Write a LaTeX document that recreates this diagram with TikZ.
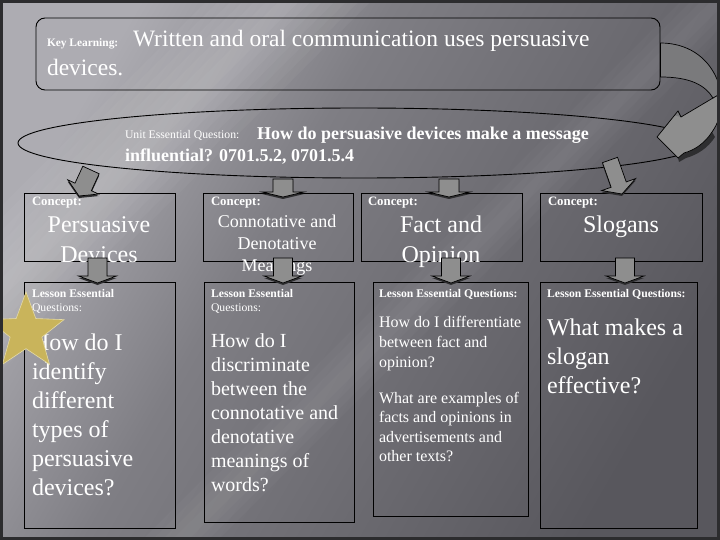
\documentclass[tikz,border=0pt]{standalone}
\usepackage{fontspec}
\setmainfont{Liberation Serif}
\usetikzlibrary{shapes.geometric,calc}
\definecolor{bgL}{HTML}{ADACB2}
\definecolor{bgM}{HTML}{7F7E84}
\definecolor{bgD}{HTML}{58575D}
\definecolor{arrowgray}{HTML}{8E8E8E}
\definecolor{arrowback}{HTML}{7A7A7C}
\definecolor{shadowc}{HTML}{2E2E30}
\definecolor{stargold}{HTML}{C9B45B}
\definecolor{staredge}{HTML}{E4DAA6}
\definecolor{framec}{HTML}{2C2C2E}
\pgfdeclarehorizontalshading{bgsh}{100bp}{color(0bp)=(bgL); color(25bp)=(bgL); color(42bp)=(bgM); color(75bp)=(bgD); color(100bp)=(bgD)}
\newcommand\blockarr[5]{%
  \path ($(#2)!#5!(#1)$) coordinate (tmpH);
  \begin{scope}[transform canvas={yshift=-2pt}]
  \fill[shadowc] ($(#1)!#3!-90:(#2)$) -- ($(tmpH)!#3!90:(#1)$) -- ($(tmpH)!#4!90:(#1)$) -- (#2) -- ($(tmpH)!#4!-90:(#1)$) -- ($(tmpH)!#3!-90:(#1)$) -- ($(#1)!#3!90:(#2)$) -- cycle;
  \end{scope}
  \draw[barrow] ($(#1)!#3!-90:(#2)$) -- ($(tmpH)!#3!90:(#1)$) -- ($(tmpH)!#4!90:(#1)$) -- (#2) -- ($(tmpH)!#4!-90:(#1)$) -- ($(tmpH)!#3!-90:(#1)$) -- ($(#1)!#3!90:(#2)$) -- cycle;}
\begin{document}
\begin{tikzpicture}[x=1pt,y=-1pt,
  txt/.style={text=white, inner sep=0pt, outer sep=0pt},
  boxst/.style={draw=black, line width=0.9pt, rectangle, inner sep=0pt},
  barrow/.style={fill=arrowgray, draw=black, line width=0.7pt, line join=miter},
  fa/.style={txt, anchor=base west, font=\fontsize{24}{28}\selectfont},
  fb/.style={txt, anchor=base west, font=\fontsize{20}{24}\selectfont},
  fc/.style={txt, anchor=base west, font=\fontsize{16}{19}\selectfont},
  small/.style={txt, anchor=base west, font=\fontsize{11.7}{13}\selectfont},
  smallb/.style={txt, anchor=base west, font=\fontsize{11.7}{13}\selectfont\bfseries},
  conc/.style={txt, anchor=base west, font=\fontsize{12.8}{14}\selectfont\bfseries},
  ctitle/.style={txt, anchor=base, font=\fontsize{24}{28}\selectfont},
]
\useasboundingbox (0,0) rectangle (720,540);
% background
\shade[shading=bgsh, shading angle=-30] (0,0) rectangle (720,540);
\begin{scope}
  \clip (0,0) rectangle (720,540);
  \foreach \w in {10,22,34,46,58,70,82}
    \fill[white, fill opacity=0.035] ({290-\w+700},-700) -- ({290+\w+700},-700) -- ({290+\w-1300},1300) -- ({290-\w-1300},1300) -- cycle;
  \foreach \w in {8,18,28,38}
    \fill[white, fill opacity=0.025] ({720-\w+700},-700) -- ({720+\w+700},-700) -- ({720+\w-1300},1300) -- ({720-\w-1300},1300) -- cycle;
\end{scope}

% key learning
\node[draw=black, line width=0.9pt, rounded corners=9pt, minimum width=624pt, minimum height=72pt, inner sep=0pt] (kl) at (348,54) {};
\node[txt, anchor=base west, font=\fontsize{11.4}{13}\selectfont\bfseries] (klab) at (47,47) {Key Learning:};
\node[txt, anchor=base west, font=\fontsize{23.5}{28}\selectfont] (kl1) at (133,47) {Written and oral communication uses persuasive};
\node[txt, anchor=base west, font=\fontsize{23.5}{28}\selectfont] (kl2) at (47,76) {devices.};

% unit essential question
\node[ellipse, draw=black, line width=0.9pt, minimum width=682pt, minimum height=70pt, inner sep=0pt] (ueq) at (359,143) {};
\node[small] (ueqlab) at (125,139) {Unit Essential Question:};
\node[txt, anchor=base west, font=\fontsize{18}{22}\selectfont\bfseries] (ueq1) at (257,140) {How do persuasive devices make a message};
\node[txt, anchor=base west, font=\fontsize{18}{22}\selectfont\bfseries] (ueq2) at (125,162) {influential? 0701.5.2, 0701.5.4};

% curved arrow from key learning to unit question
\coordinate (ko) at (kl.east |- 0,43);
\coordinate (ki) at (kl.east |- 0,77);
\fill[shadowc] (678,158) -- (684,153) .. controls (695,150) and (705,143) .. (712,132) -- (715,137) .. controls (708,148) and (697,155) .. (686,158) -- (679,162) -- cycle;
\fill[arrowback] (ko) .. controls (715,43) and (735,100) .. (712,132) .. controls (705,143) and (695,150) .. (684,153) -- (678,158) -- (657,137) -- (678,111) -- (681,117) -- (713,98) .. controls (705,85) and (690,77) .. (ki) -- cycle;
\begin{scope}
  \clip (ko) .. controls (715,43) and (735,100) .. (712,132) .. controls (705,143) and (695,150) .. (684,153) -- (678,158) -- (657,137) -- (678,111) -- (681,117) -- (713,98) .. controls (705,85) and (690,77) .. (ki) -- cycle;
  \fill[arrowgray] (681,117) -- (713,98) -- (730,92) -- (730,170) -- (650,170) -- (650,110) -- cycle;
\end{scope}
\draw[black, line width=0.7pt, line join=miter] (ko) .. controls (715,43) and (735,100) .. (712,132) .. controls (705,143) and (695,150) .. (684,153) -- (678,158) -- (657,137) -- (678,111) -- (681,117) -- (713,98) .. controls (705,85) and (690,77) .. (ki) -- cycle;
\draw[black, line width=0.7pt] (713,98) -- (720,94);

% concept boxes
\node[boxst, minimum width=151pt, minimum height=68pt] (c1) at (99.5,227) {};
\node[boxst, minimum width=150pt, minimum height=68pt] (c2) at (278,227) {};
\node[boxst, minimum width=161pt, minimum height=68pt] (c3) at (441.5,227) {};
\node[boxst, minimum width=162pt, minimum height=68pt] (c4) at (621,227) {};
\node[conc] (c1lab) at (32,206) {Concept:};
\node[conc] (c2lab) at (211,206) {Concept:};
\node[conc] (c3lab) at (368,206) {Concept:};
\node[conc] (c4lab) at (548,206) {Concept:};
\node[ctitle] (c1t1) at (99,233) {Persuasive};
\node[ctitle] (c1t2) at (99,262) {Devices};
\node[txt, anchor=base, font=\fontsize{18}{22}\selectfont] (c2t1) at (277,227) {Connotative and};
\node[txt, anchor=base, font=\fontsize{18}{22}\selectfont] (c2t2) at (277,249) {Denotative};
\node[txt, anchor=base, font=\fontsize{18}{22}\selectfont] (c2t3) at (277,271) {Meanings};
\node[ctitle] (c3t1) at (441,233) {Fact and};
\node[ctitle] (c3t2) at (441,262) {Opinion};
\node[ctitle] (c4t1) at (621,233) {Slogans};

% lesson boxes
\node[boxst, minimum width=151pt, minimum height=246pt] (l1) at (99.5,405) {};
\node[boxst, minimum width=150pt, minimum height=240pt] (l2) at (279,402) {};
\node[boxst, minimum width=155pt, minimum height=234pt] (l3) at (450.5,399) {};
\node[boxst, minimum width=157pt, minimum height=246pt] (l4) at (618.5,405) {};
\node[smallb] (l1h1) at (32,297) {Lesson Essential};
\node[small] (l1h2) at (32,311) {Questions:};
\node[smallb] (l2h1) at (211,297) {Lesson Essential};
\node[small] (l2h2) at (211,311) {Questions:};
\node[smallb] (l3h) at (379,297) {Lesson Essential Questions:};
\node[smallb] (l4h) at (547,297) {Lesson Essential Questions:};
\foreach \t [count=\i from 0] in {How do I, identify, different, types of, persuasive, devices?}
  \node[fa] (l1b\i) at (32,{350+29*\i}) {\t};
\foreach \t [count=\i from 0] in {How do I, discriminate, between the, connotative and, denotative, meanings of, words?}
  \node[fb] (l2b\i) at (211,{347+24*\i}) {\t};
\foreach \t [count=\i from 0] in {How do I differentiate, between fact and, opinion?}
  \node[fc] (l3a\i) at (379,{327+20*\i}) {\t};
\foreach \t [count=\i from 0] in {What are examples of, facts and opinions in, advertisements and, other texts?}
  \node[fc] (l3b\i) at (379,{403+19.5*\i}) {\t};
\foreach \t [count=\i from 0] in {What makes a, slogan, effective?}
  \node[fa] (l4b\i) at (547,{335+29*\i}) {\t};

% arrows ellipse -> concepts
\coordinate (a1s) at (91,170);
\coordinate (a1t) at (79,196);
\coordinate (a2s) at (283,179);
\coordinate (a2t) at (283,197);
\coordinate (a3s) at (449,179);
\coordinate (a3t) at (449,197);
\coordinate (a4s) at (610,160);
\coordinate (a4t) at (622,194);
\blockarr{a1s}{a1t}{9pt}{17pt}{10pt}
\blockarr{a2s}{a2t}{10pt}{21pt}{5pt}
\blockarr{a3s}{a3t}{10pt}{21pt}{5pt}
\blockarr{a4s}{a4t}{8pt}{18pt}{10pt}

% arrows concepts -> lessons
\coordinate (b1s) at (97.5,258);
\coordinate (b1t) at (97.5,283);
\coordinate (b2s) at (283,258);
\coordinate (b2t) at (283,283);
\coordinate (b3s) at (451,258);
\coordinate (b3t) at (451,283);
\coordinate (b4s) at (625,258);
\coordinate (b4t) at (625,283);
\blockarr{b1s}{b1t}{9.5pt}{19pt}{7pt}
\blockarr{b2s}{b2t}{9.5pt}{19pt}{7pt}
\blockarr{b3s}{b3t}{9.5pt}{19pt}{7pt}
\blockarr{b4s}{b4t}{9.5pt}{19pt}{7pt}

% star
\node[star, star points=5, star point ratio=2.4, minimum size=80pt, inner sep=0pt, fill=stargold, draw=staredge, line width=0.6pt] (st) at (26,332) {};

% frame
\draw[framec, line width=3pt] (1.5,1.5) rectangle (718.5,538.5);
\end{tikzpicture}
\end{document}
